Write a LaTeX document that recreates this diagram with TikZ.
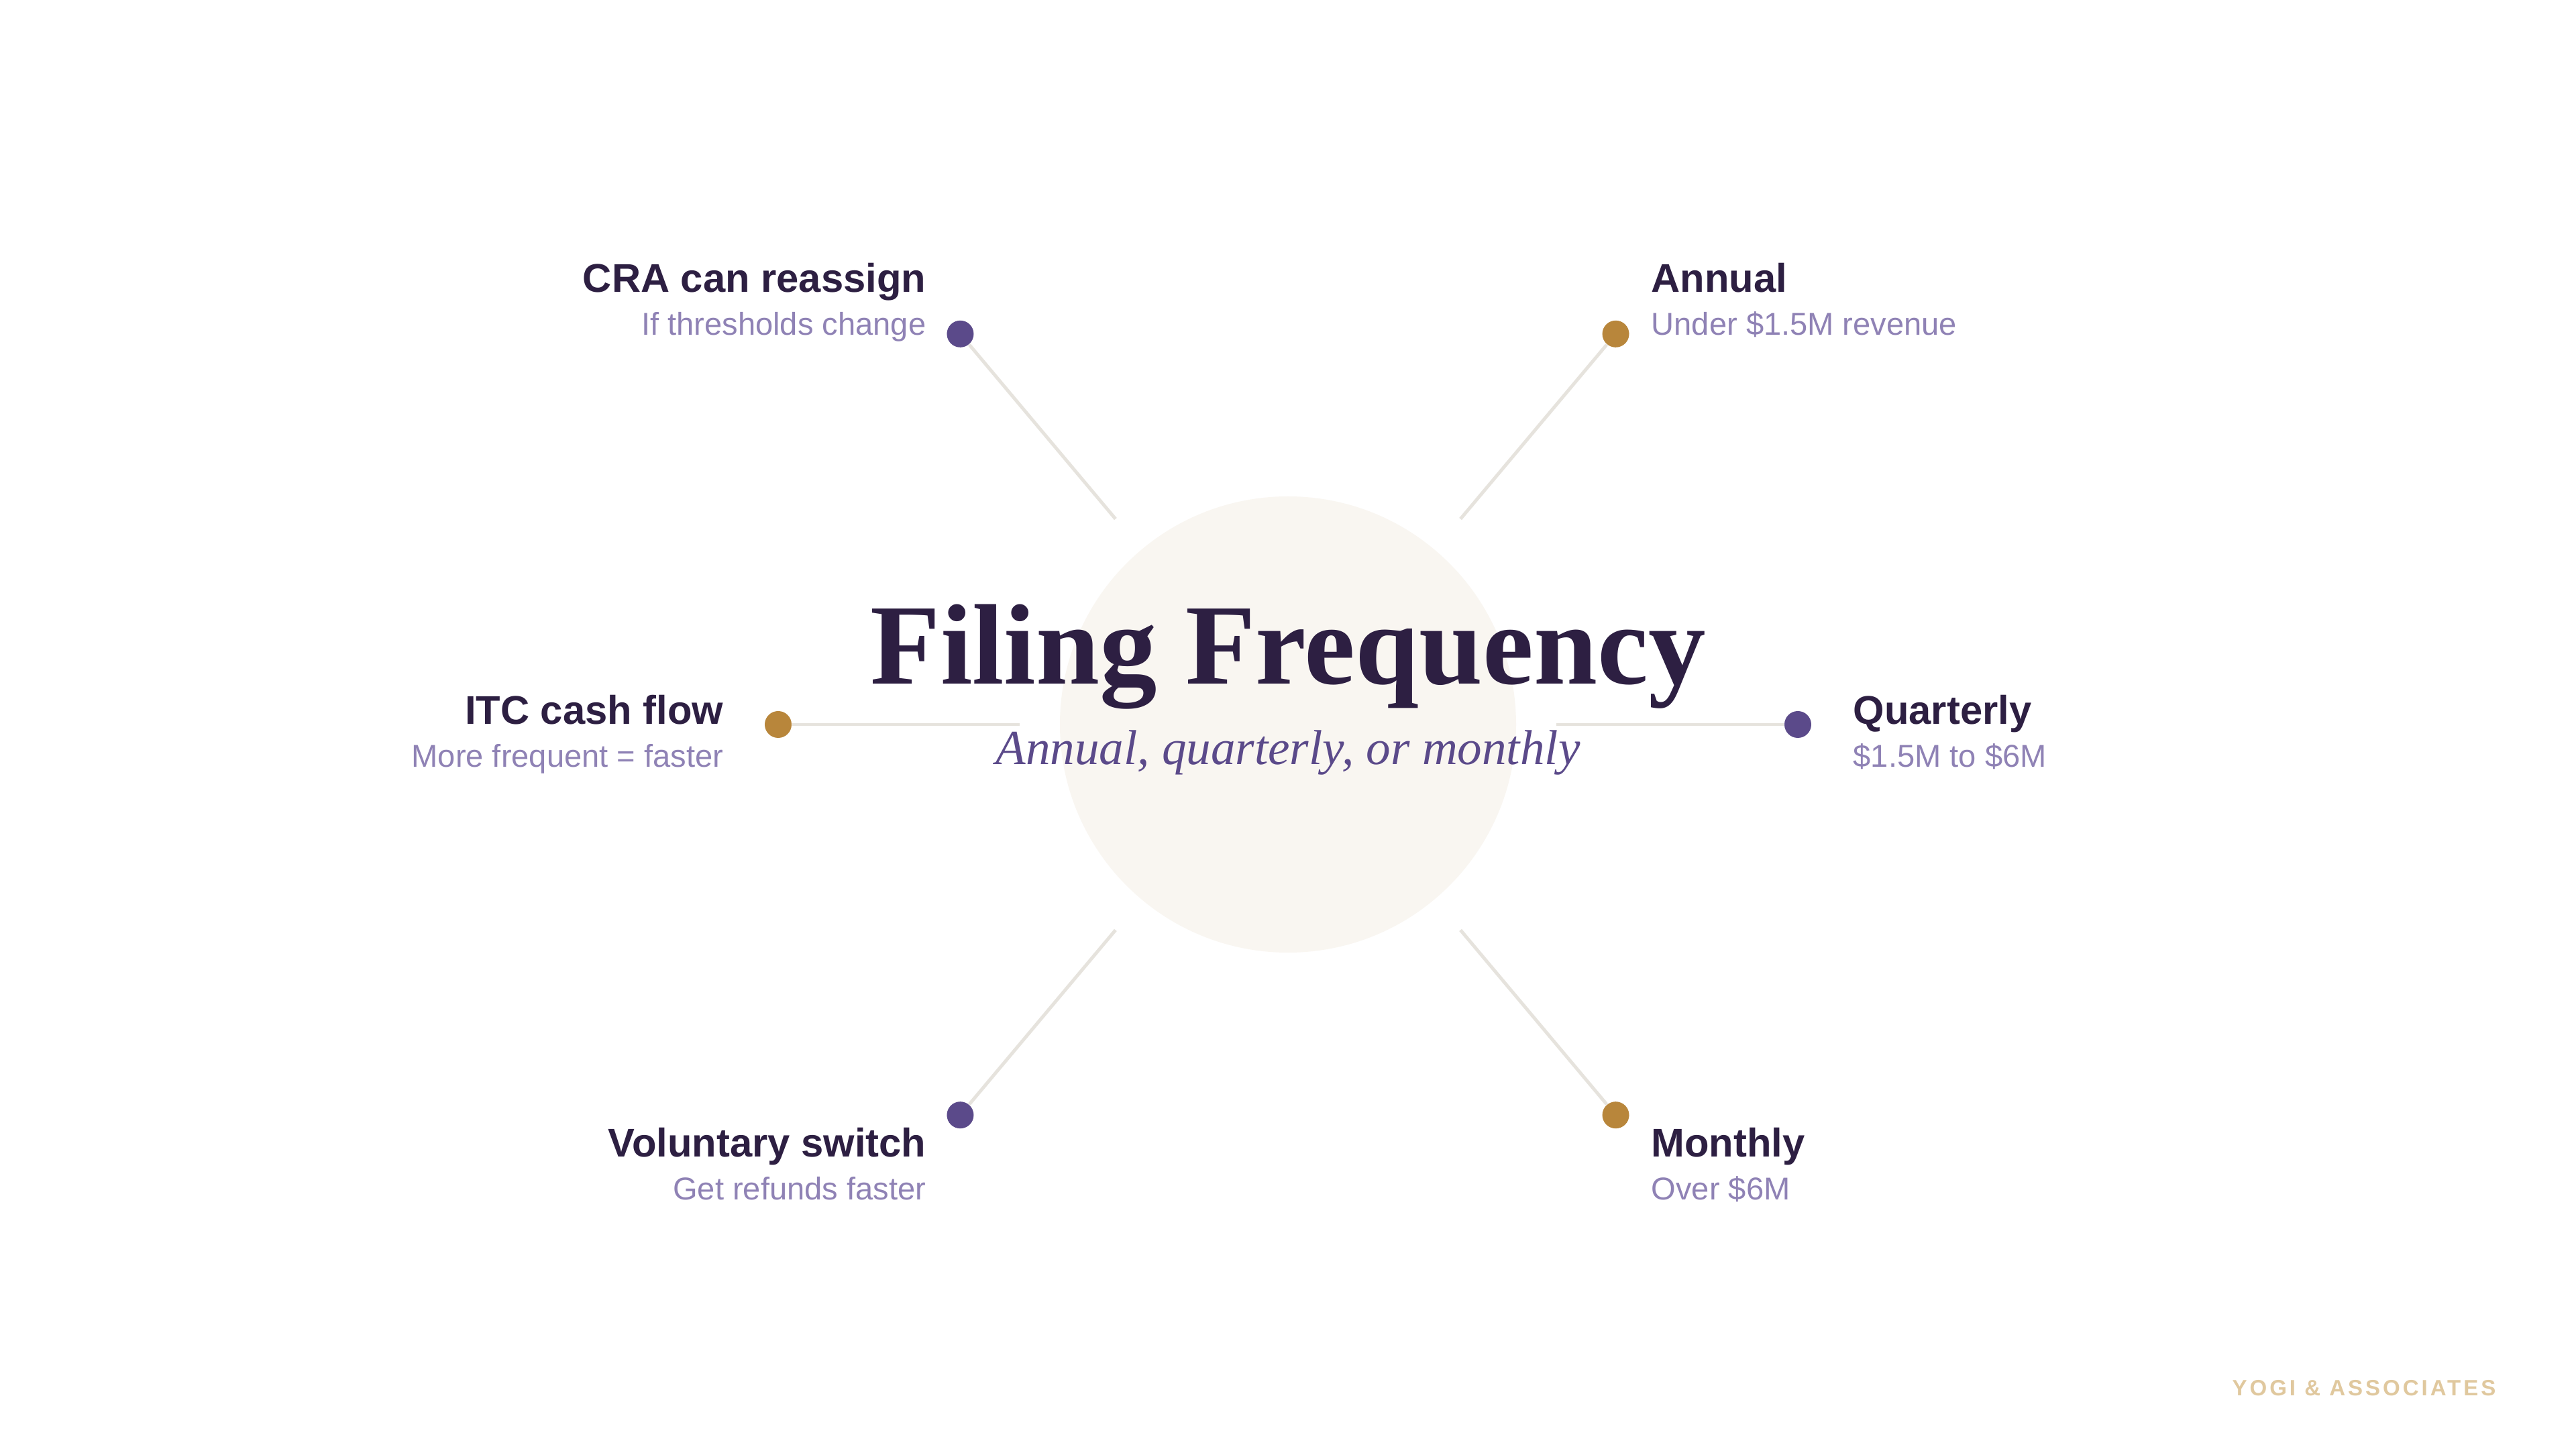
\documentclass[tikz,border=0pt]{standalone}
\usepackage{fontspec}
\setmainfont{Liberation Sans}
\newfontfamily\serifhead{Liberation Serif}
\newfontfamily\brandfont[LetterSpace=12]{Liberation Sans}
\usepackage{tikz}
\usetikzlibrary{positioning, calc}
\definecolor{inkDark}{HTML}{2D1F42}
\definecolor{plumMid}{HTML}{5B4A8A}
\definecolor{plumSoft}{HTML}{8F82B5}
\definecolor{goldDot}{HTML}{B8863B}
\definecolor{spokeGrey}{HTML}{E6E3DD}
\definecolor{hubFill}{HTML}{F9F6F1}
\definecolor{brandGold}{HTML}{E0C89E}

\begin{document}
\begin{tikzpicture}[
    spoke/.style={draw=spokeGrey, line width=1.4pt},
    dot/.style={circle, inner sep=0pt, minimum size=0.4cm},
    headtxt/.style={inner sep=0pt, text=inkDark, font=\fontsize{17}{20}\selectfont\bfseries},
    subtxt/.style={inner sep=0pt, text=plumSoft, font=\fontsize{13.4}{16}\selectfont}
  ]
  \fill[white] (-19.2,-10.8) rectangle (19.2,10.8);
  \useasboundingbox (-19.2,-10.8) rectangle (19.2,10.8);

  % hub
  \node (hub) [circle, fill=hubFill, minimum size=6.8cm, inner sep=0pt] at (0,0) {};

  % spokes: inner ends and dots
  \coordinate (inTL) at (130:4);
  \coordinate (inTR) at (50:4);
  \coordinate (inL) at (180:4);
  \coordinate (inR) at (0:4);
  \coordinate (inBL) at (230:4);
  \coordinate (inBR) at (310:4);
  \node (dotTL) [dot, fill=plumMid] at (130:7.6) {};
  \node (dotTR) [dot, fill=goldDot] at (50:7.6) {};
  \node (dotL) [dot, fill=goldDot] at (180:7.6) {};
  \node (dotR) [dot, fill=plumMid] at (0:7.6) {};
  \node (dotBL) [dot, fill=plumMid] at (230:7.6) {};
  \node (dotBR) [dot, fill=goldDot] at (310:7.6) {};
  \draw[spoke] (inTL) -- (dotTL);
  \draw[spoke] (inTR) -- (dotTR);
  \draw[spoke] (inL) -- (dotL);
  \draw[spoke] (inR) -- (dotR);
  \draw[spoke] (inBL) -- (dotBL);
  \draw[spoke] (inBR) -- (dotBR);

  % centre text
  \node (title) [anchor=base, inner sep=0pt, text=inkDark,
    font=\serifhead\bfseries\fontsize{48.6}{56}\selectfont] at (0,0.60) {Filing Frequency};
  \node (subtitle) [anchor=base, inner sep=0pt, text=plumMid,
    font=\serifhead\itshape\fontsize{20.8}{24}\selectfont] at (0,-0.60) {Annual, quarterly, or monthly};

  % labels
  \node (hTL) [headtxt, anchor=base east] at (-5.39,6.44) {CRA can reassign};
  \node (sTL) [subtxt, anchor=base east] at (-5.39,5.80) {If thresholds change};
  \node (hTR) [headtxt, anchor=base west] at (5.41,6.44) {Annual};
  \node (sTR) [subtxt, anchor=base west] at (5.41,5.80) {Under \$1.5M revenue};
  \node (hL) [headtxt, anchor=base east] at (-8.41,0) {ITC cash flow};
  \node (sL) [subtxt, anchor=base east] at (-8.41,-0.64) {More frequent = faster};
  \node (hR) [headtxt, anchor=base west] at (8.42,0) {Quarterly};
  \node (sR) [subtxt, anchor=base west] at (8.42,-0.64) {\$1.5M to \$6M};
  \node (hBL) [headtxt, anchor=base east] at (-5.39,-6.44) {Voluntary switch};
  \node (sBL) [subtxt, anchor=base east] at (-5.39,-7.08) {Get refunds faster};
  \node (hBR) [headtxt, anchor=base west] at (5.41,-6.44) {Monthly};
  \node (sBR) [subtxt, anchor=base west] at (5.41,-7.08) {Over \$6M};

  % footer mark
  \node (brand) [anchor=base east, inner sep=0pt, text=brandGold,
    font=\brandfont\bfseries\fontsize{9.4}{11}\selectfont] at (18.01,-10.0) {YOGI \& ASSOCIATES};
\end{tikzpicture}
\end{document}
